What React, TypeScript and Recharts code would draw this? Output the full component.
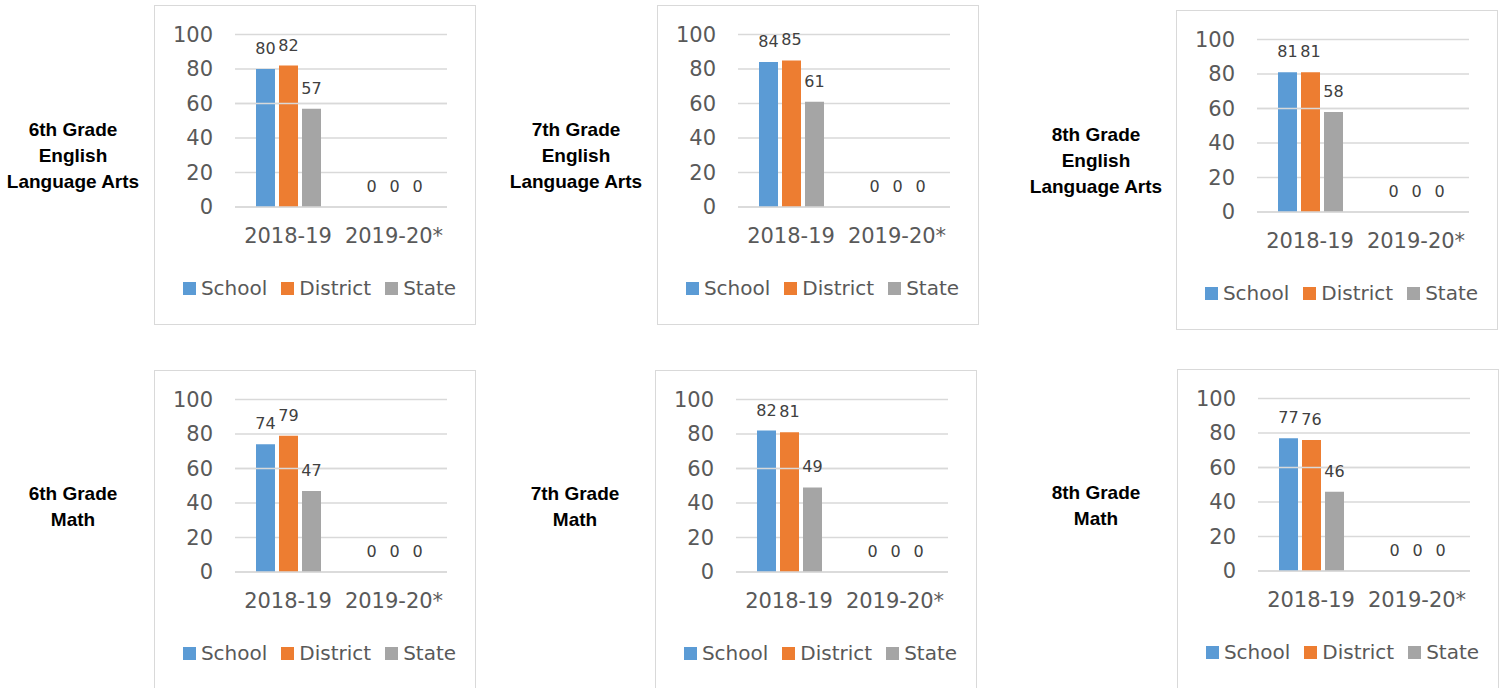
import React from 'react';
import { BarChart, Bar, XAxis, YAxis, CartesianGrid, Legend, LabelList, ReferenceLine } from 'recharts';

const years = ['2018-19', '2019-20*'];
const seriesNames = ['School', 'District', 'State'];
const seriesColors = ['#5B9BD5', '#ED7D31', '#A5A5A5'];
const yTicks = [0, 20, 40, 60, 80, 100];

// values
const ela6School = [80, 0];
const ela6District = [82, 0];
const ela6State = [57, 0];

const ela7School = [84, 0];
const ela7District = [85, 0];
const ela7State = [61, 0];

const ela8School = [81, 0];
const ela8District = [81, 0];
const ela8State = [58, 0];

const math6School = [74, 0];
const math6District = [79, 0];
const math6State = [47, 0];

const math7School = [82, 0];
const math7District = [81, 0];
const math7State = [49, 0];

const math8School = [77, 0];
const math8District = [76, 0];
const math8State = [46, 0];

const FONT = '"DejaVu Sans", sans-serif';
const TITLE_FONT = '"Liberation Sans", Arial, sans-serif';

const renderLegend = () => (
  <div
    style={{
      display: 'flex',
      justifyContent: 'center',
      alignItems: 'center',
      fontFamily: FONT,
      fontSize: 20,
      color: '#595959',
      lineHeight: '24px',
      paddingLeft: 9,
    }}
  >
    {seriesNames.map((n, k) => (
      <span key={n} style={{ display: 'flex', alignItems: 'center', marginRight: k < 2 ? 14 : 0 }}>
        <span style={{ width: 13, height: 13, background: seriesColors[k], marginRight: 5, display: 'inline-block' }} />
        {n}
      </span>
    ))}
  </div>
);

interface GradeChartProps {
  title: string[];
  school: number[];
  district: number[];
  state: number[];
  left: number;
  top: number;
  titleX: number;
  titleY: number;
  line60?: boolean;
}

const GradeChart: React.FC<GradeChartProps> = ({ title, school, district, state, left, top, titleX, titleY, line60 }) => {
  const data = years.map((year, i) => ({
    year,
    School: school[i],
    District: district[i],
    State: state[i],
  }));

  return (
    <>
      <div
        style={{
          position: 'absolute',
          left: titleX - 90,
          top: titleY - 50,
          width: 180,
          height: 100,
          display: 'flex',
          alignItems: 'center',
          justifyContent: 'center',
          textAlign: 'center',
          fontFamily: TITLE_FONT,
          fontWeight: 'bold',
          fontSize: 19,
          lineHeight: '26px',
          color: '#000',
        }}
      >
        <div>
          {title.map((t) => (
            <div key={t}>{t}</div>
          ))}
        </div>
      </div>
      <div
        style={{
          position: 'absolute',
          left,
          top,
          width: 322,
          height: 320,
          border: '1px solid #d9d9d9',
          boxSizing: 'border-box',
          background: '#fff',
        }}
      >
        <BarChart
          width={320}
          height={318}
          data={data}
          margin={{ top: 28.5, right: 28, bottom: 0, left: 0 }}
          barGap={4}
          barSize={19}
        >
          <CartesianGrid vertical={false} stroke="#d9d9d9" strokeWidth={1.5} />
          <XAxis
            dataKey="year"
            axisLine={{ stroke: '#d9d9d9', strokeWidth: 1.5 }}
            tickLine={false}
            tickSize={0}
            tickMargin={21}
            height={117}
            interval={0}
            tick={{ fill: '#595959', fontSize: 21, fontFamily: FONT }}
          />
          <YAxis
            domain={[0, 100]}
            ticks={yTicks}
            width={80}
            axisLine={false}
            tickLine={false}
            tickSize={0}
            tickMargin={22}
            tick={{ fill: '#595959', fontSize: 21, fontFamily: FONT }}
          />
          <Legend
            layout="horizontal"
            verticalAlign="middle"
            align="center"
            wrapperStyle={{ top: 270, left: 0, width: 320 }}
            content={renderLegend}
          />
          {seriesNames.map((name, k) => (
            <Bar key={name} dataKey={name} fill={seriesColors[k]} minPointSize={0.01} isAnimationActive={false}>
              <LabelList dataKey={name} position="top" offset={15} fill="#404040" fontSize={16} fontFamily={FONT} />
            </Bar>
          ))}
          {line60 && <ReferenceLine y={60} stroke="#d9d9d9" strokeWidth={1.5} zIndex={500} />}
        </BarChart>
      </div>
    </>
  );
};

export default function App() {
  return (
    <div style={{ position: 'absolute', left: 0, top: 0, width: 1503, height: 688, background: '#fff', overflow: 'hidden' }}>
      <GradeChart
        title={['6th Grade', 'English', 'Language Arts']}
        school={ela6School}
        district={ela6District}
        state={ela6State}
        left={154}
        top={5}
        titleX={73}
        titleY={156}
        line60
      />
      <GradeChart
        title={['7th Grade', 'English', 'Language Arts']}
        school={ela7School}
        district={ela7District}
        state={ela7State}
        left={657}
        top={5}
        titleX={576}
        titleY={156}
      />
      <GradeChart
        title={['8th Grade', 'English', 'Language Arts']}
        school={ela8School}
        district={ela8District}
        state={ela8State}
        left={1176}
        top={10}
        titleX={1096}
        titleY={161}
        line60
      />
      <GradeChart
        title={['6th Grade', 'Math']}
        school={math6School}
        district={math6District}
        state={math6State}
        left={154}
        top={370}
        titleX={73}
        titleY={507}
        line60
      />
      <GradeChart
        title={['7th Grade', 'Math']}
        school={math7School}
        district={math7District}
        state={math7State}
        left={655}
        top={370}
        titleX={575}
        titleY={507}
        line60
      />
      <GradeChart
        title={['8th Grade', 'Math']}
        school={math8School}
        district={math8District}
        state={math8State}
        left={1177}
        top={369}
        titleX={1096}
        titleY={506}
        line60
      />
    </div>
  );
}
